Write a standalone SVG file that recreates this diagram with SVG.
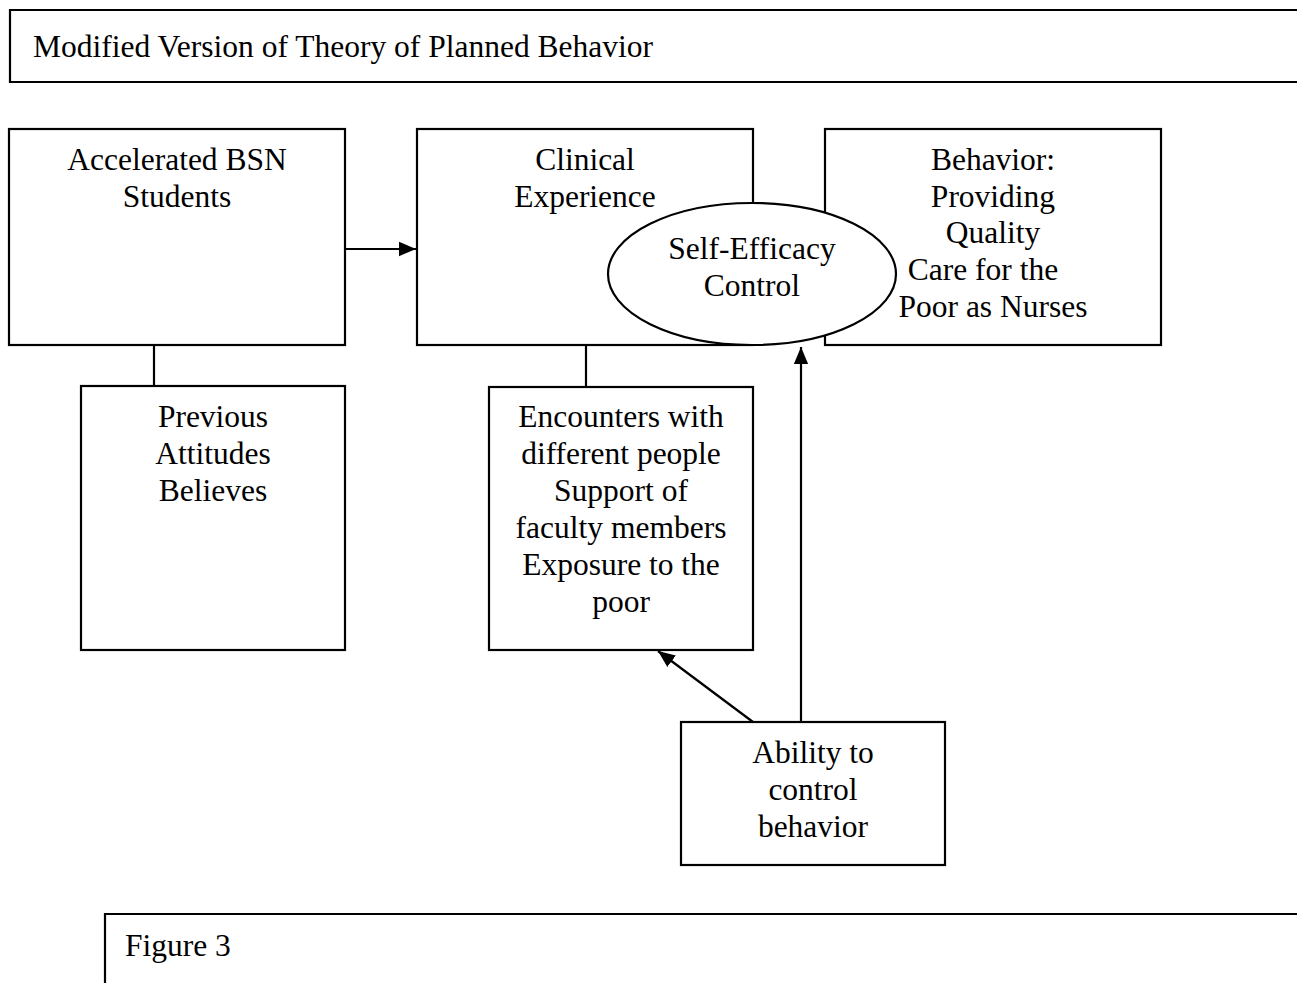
<svg xmlns="http://www.w3.org/2000/svg" width="1297" height="983" viewBox="0 0 1297 983">
<style>
.box{fill:#fff;stroke:#000;stroke-width:2.2}
.ln{fill:none;stroke:#000;stroke-width:2.2}
text{font-family:"Liberation Serif","Times New Roman",serif;font-size:31.5px;fill:#000}
.c{text-anchor:middle}
</style>
<defs>
<marker id="a2" viewBox="0 0 10 10" refX="10" refY="5" markerWidth="17" markerHeight="17" markerUnits="userSpaceOnUse" orient="auto">
<path d="M0,0.8 L10,5 L0,9.2 z" fill="#000"/>
</marker>
</defs>
<rect width="1297" height="983" fill="#fff"/>
<g id="title">
<path class="ln" d="M1297,10 H10 V82 H1297"/>
<text x="33" y="57">Modified Version of Theory of Planned Behavior</text>
</g>
<g id="connectors">
<line class="ln" x1="154" y1="345" x2="154" y2="386"/>
<line class="ln" x1="586" y1="345" x2="586" y2="387"/>
<line class="ln" x1="345" y1="249" x2="416" y2="249" marker-end="url(#a2)"/>
<line class="ln" x1="753" y1="722" x2="658" y2="651" marker-end="url(#a2)"/>
<line class="ln" x1="801" y1="722" x2="801" y2="347" marker-end="url(#a2)"/>
</g>
<g id="accelerated">
<rect class="box" x="9" y="129" width="336" height="216"/>
<text class="c" x="177" y="170">Accelerated BSN</text>
<text class="c" x="177" y="207">Students</text>
</g>
<g id="clinical">
<rect class="box" x="417" y="129" width="336" height="216"/>
<text class="c" x="585" y="170">Clinical</text>
<text class="c" x="585" y="207">Experience</text>
</g>
<g id="behavior">
<rect class="box" x="825" y="129" width="336" height="216"/>
</g>
<g id="selfefficacy">
<ellipse class="box" cx="752" cy="274" rx="144" ry="71"/>
<text class="c" x="752" y="259">Self-Efficacy</text>
<text class="c" x="752" y="296">Control</text>
</g>
<g id="behavior-text">
<text class="c" x="993" y="170">Behavior:</text>
<text class="c" x="993" y="207">Providing</text>
<text class="c" x="993" y="243">Quality</text>
<text class="c" x="983" y="280">Care for the</text>
<text class="c" x="993" y="317">Poor as Nurses</text>
</g>
<g id="previous">
<rect class="box" x="81" y="386" width="264" height="264"/>
<text class="c" x="213" y="427">Previous</text>
<text class="c" x="213" y="464">Attitudes</text>
<text class="c" x="213" y="501">Believes</text>
</g>
<g id="encounters">
<rect class="box" x="489" y="387" width="264" height="263"/>
<text class="c" x="621" y="427">Encounters with</text>
<text class="c" x="621" y="464">different people</text>
<text class="c" x="621" y="501">Support of</text>
<text class="c" x="621" y="538">faculty members</text>
<text class="c" x="621" y="575">Exposure to the</text>
<text class="c" x="621" y="612">poor</text>
</g>
<g id="ability">
<rect class="box" x="681" y="722" width="264" height="143"/>
<text class="c" x="813" y="763">Ability to</text>
<text class="c" x="813" y="800">control</text>
<text class="c" x="813" y="837">behavior</text>
</g>
<g id="figure">
<path class="ln" d="M1297,914 H105 V983"/>
<text x="125" y="956">Figure 3</text>
</g>
</svg>
